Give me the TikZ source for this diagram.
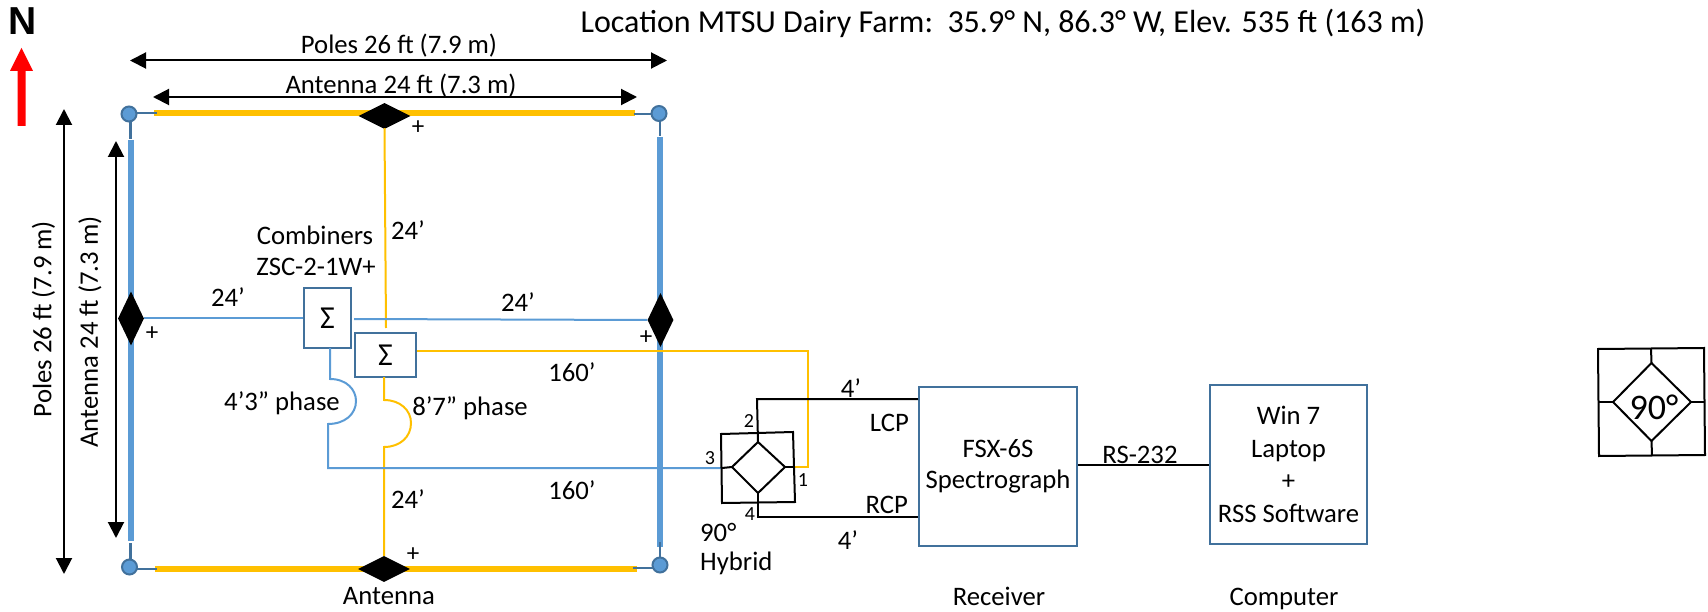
\documentclass[tikz,border=0pt]{standalone}
\usepackage{fontspec}
\setmainfont{Carlito}
\newfontfamily\arialb[Scale=1]{Liberation Sans}
\usetikzlibrary{shapes.geometric,arrows.meta,calc}
\definecolor{ablue}{HTML}{5B9BD5}
\definecolor{aorange}{HTML}{FFC000}
\definecolor{dblue}{HTML}{41719C}
\tikzset{
  x=1pt,y=-1pt,
  lab/.style={font=\fontsize{26.7}{29}\selectfont,inner sep=0pt,text=black},
  smalllab/.style={font=\fontsize{20}{22}\selectfont,inner sep=0pt,text=black},
  plus/.style={font=\fontsize{25}{27}\selectfont,inner sep=0pt,text=black},
  dimline/.style={black,line width=2pt,{Triangle[length=16pt,width=16pt]}-{Triangle[length=16pt,width=16pt]}},
  hfeed/.style={diamond,fill=black,inner sep=0pt,minimum width=52pt,minimum height=26pt,shape aspect=2},
  vfeed/.style={diamond,fill=black,inner sep=0pt,minimum width=26pt,minimum height=54pt,shape aspect=0.48},
  pole/.style={circle,fill=ablue,draw=dblue,line width=2pt,inner sep=0pt,minimum size=15pt},
  stub/.style={dblue,line width=2.5pt},
  thickorange/.style={aorange,line width=6pt},
  thickblue/.style={ablue,line width=6pt},
  thinorange/.style={aorange,line width=2pt},
  thinblue/.style={ablue,line width=2pt},
  sumbox/.style={draw=dblue,line width=2.5pt,fill=white,inner sep=0pt,font=\fontsize{32}{34}\selectfont},
  bigbox/.style={draw=dblue,line width=2pt,fill=white,inner sep=0pt,align=center},
  hyb/.style={black,line width=2pt},
  wire/.style={black,line width=2pt},
}
\begin{document}
\begin{tikzpicture}
\useasboundingbox (0,0) rectangle (1708,612);
% named ends of the antenna elements
\coordinate (tL) at (154,113.5); \coordinate (tR) at (635,113.5);
\coordinate (bL) at (155,569); \coordinate (bR) at (637,569);
\coordinate (lT) at (131,140); \coordinate (lB) at (131,541);
\coordinate (rT) at (660,137); \coordinate (rB) at (660,547);
% thick elements
\draw[thickorange] (tL) -- (tR);
\draw[thickorange] (bL) -- (bR);
\draw[thickblue] (lT) -- (lB);
\draw[thickblue] (rT) -- (rB);
% stubs
\draw[stub] (136,113) -- (157,113);
\draw[stub] (130.5,121) -- (130.5,139);
\draw[stub] (652,114) -- (634,114);
\draw[stub] (660,120) -- (660,136);
\draw[stub] (136,569) -- (157,569);
\draw[stub] (130.5,560) -- (130.5,543);
\draw[stub] (653,568) -- (633,568);
\draw[stub] (660,558) -- (660,542);
% poles
\node[pole] (pTL) at (129,114) {};
\node[pole] (pTR) at (659,113.5) {};
\node[pole] (pBL) at (129.5,567) {};
\node[pole] (pBR) at (660,565) {};
% feeds
\node[hfeed] (dT) at (384.5,116) {};
\node[hfeed] (dB) at (384,569) {};
\node[vfeed] (dL) at (131,318.5) {};
\node[vfeed] (dR) at (660.5,320) {};
% combiners
\node[sumbox,minimum width=47pt,minimum height=60pt] (s1) at (327.5,318) {\raisebox{-1.5pt}{Σ}};
\node[sumbox,minimum width=61pt,minimum height=44pt] (s2) at (385.5,355) {\raisebox{-1.5pt}{Σ}};
% hybrid main
\coordinate (hA) at (721,434); \coordinate (hB) at (793,432);
\coordinate (hC) at (795,502); \coordinate (hD) at (722,503);
\coordinate (hT) at (758,442); \coordinate (hR) at (785,467);
\coordinate (hU) at (758,493); \coordinate (hL) at (732,467);
\coordinate (hp1) at (794,467); \coordinate (hp3) at (722,468);
% receiver and computer
\node[bigbox,minimum width=158pt,minimum height=159pt,font=\fontsize{26.7}{32}\selectfont] (rx) at (998,466.5) {\raisebox{-1pt}{FSX-6S}\\Spectrograph};
\node[bigbox,minimum width=157pt,minimum height=159pt,font=\fontsize{26.7}{32.5}\selectfont] (pc) at (1288.5,464.5) {Win 7\\Laptop\\+\\RSS Software};
% orange feedlines
\draw[thinorange] (dT.south) ++(0,-1) -- (386,328);
\draw[thinorange] (s2.east |- 0,351) -- (808,351) -- (808,467) -- (hp1);
\draw[thinorange] (384,377) -- (384,400) .. controls (400,400) and (411,410) .. (411,423) .. controls (411,437) and (400,447) .. (384,447) -- (dB.north);
% blue feedlines
\draw[thinblue] (dL.east) -- (s1.west |- dL.east);
\draw[thinblue] (354,319) -- (dR.west);
\draw[thinblue] (330,348) -- (330,379) .. controls (347,379) and (356,390) .. (356,401) .. controls (356,414) and (345,424) .. (328,424) -- (328,468) -- (hp3);
% hybrid drawing
\draw[hyb] (hA) -- (hB) -- (hC) -- (hD) -- cycle;
\draw[hyb] (hT) -- (hR) -- (hU) -- (hL) -- cycle;
\draw[hyb] (hL) -- (hp3);
\draw[hyb] (hR) -- (hp1);
\draw[wire] (hT) -- (757,399) -- (rx.west |- 0,399);
\draw[wire] (hU) -- (758,517) -- (rx.west |- 0,517);
\draw[wire] (rx.east |- 0,465) -- (pc.west |- 0,465);
% dimension arrows
\coordinate (a1) at (130,60.5); \coordinate (a2) at (667,60.5);
\coordinate (a3) at (153,97); \coordinate (a4) at (637,97);
\coordinate (a5) at (64,109); \coordinate (a6) at (64,574);
\coordinate (a7) at (116,141); \coordinate (a8) at (116,538);
\draw[dimline] (a1) -- (a2);
\draw[dimline] (a3) -- (a4);
\draw[dimline] (a5) -- (a6);
\draw[dimline] (a7) -- (a8);
% north arrow
\node[inner sep=0pt,font=\arialb\bfseries\fontsize{39}{41}\selectfont] (north) at (23,21) {N};
\coordinate (nT) at (21.5,48); \coordinate (nB) at (21.5,126);
\fill[red] (nT) -- (33,71) -- (25.5,71) -- (25.5,126) -- (17.5,126) -- (17.5,71) -- (10,71) -- cycle;
% text
\node[lab,font=\fontsize{32}{34}\selectfont] (loc) at (1003,23) {Location MTSU Dairy Farm:\ \ 35.9° N, 86.3° W, Elev. 535 ft (163 m)};
\node[lab] (t1) at (399,46) {Poles 26 ft (7.9 m)};
\node[lab] (t2) at (401,86) {Antenna 24 ft (7.3 m)};
\node[lab,rotate=90] (t3) at (43.5,319) {Poles 26 ft (7.9 m)};
\node[lab,rotate=90] (t4) at (90,332) {Antenna 24 ft (7.3 m)};
\node[lab] (t5) at (315,235) {Combiners};
\node[lab] (t6) at (316,267) {ZSC-2-1W+};
\node[lab] (t7) at (228,297) {24’};
\node[lab] (t8) at (408,230) {24’};
\node[lab] (t9) at (518,302) {24’};
\node[lab] (t10) at (408,499) {24’};
\node[lab] (t11) at (572,372) {160’};
\node[lab] (t12) at (572,490) {160’};
\node[lab] (t13) at (282,403) {4’3” phase};
\node[lab] (t14) at (470,408) {8’7” phase};
\node[plus] (p1) at (418,128) {+};
\node[plus] (p2) at (152,334) {+};
\node[plus] (p3) at (646,338) {+};
\node[plus] (p4) at (413,555) {+};
\node[smalllab] (n2) at (749,421) {2};
\node[smalllab] (n3) at (710,458) {3};
\node[smalllab] (n1) at (803,480) {1};
\node[smalllab] (n4) at (750,514) {4};
\node[lab,anchor=west] (t15) at (700,532) {90°};
\node[lab,anchor=west] (t16) at (700,563) {Hybrid};
\node[lab] (t17) at (851,388) {4’};
\node[lab] (t18) at (848,540) {4’};
\node[lab,anchor=east] (t19) at (909,423) {LCP};
\node[lab,anchor=east] (t20) at (908,505) {RCP};
\node[lab] (t21) at (1140,455) {RS-232};
\node[lab,anchor=base] (t22) at (389,604.5) {Antenna};
\node[lab,anchor=base] (t23) at (999,605) {Receiver};
\node[lab,anchor=base] (t24) at (1284,605) {Computer};
% legend symbol
\coordinate (kA) at (1598,349); \coordinate (kB) at (1704,348);
\coordinate (kC) at (1705,455); \coordinate (kD) at (1599,456);
\coordinate (kT) at (1651.5,363); \coordinate (kR) at (1691,402);
\coordinate (kU) at (1651.5,441); \coordinate (kL) at (1613,402);
\draw[hyb] (kA) -- (kB) -- (kC) -- (kD) -- cycle;
\draw[hyb] (kT) -- (kR) -- (kU) -- (kL) -- cycle;
\draw[hyb] (kT) -- (1651,348.5);
\draw[hyb] (kU) -- (1652,455.5);
\draw[hyb] (kL) -- (1598.5,402);
\draw[hyb] (kR) -- (1704.5,402);
\node[lab,font=\fontsize{36}{38}\selectfont] (k90) at (1654,407) {90°};
\end{tikzpicture}
\end{document}
